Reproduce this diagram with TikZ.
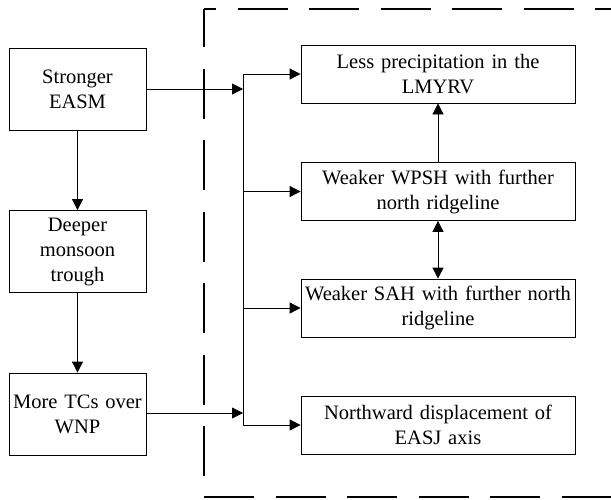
\documentclass[tikz,border=0pt]{standalone}
\usepackage{fontspec}
\setmainfont{Liberation Serif}
\usetikzlibrary{arrows.meta}
\begin{document}
\begin{tikzpicture}[x=1pt,y=-1pt,
  box/.style={draw,line width=0.8pt,align=center,inner sep=0pt,font=\fontsize{20.5}{25}\selectfont},
  lbox/.style={box,minimum width=137pt,minimum height=82pt,text width=135pt},
  rbox/.style={box,minimum width=274pt,minimum height=58pt,text width=272pt},
  conn/.style={line width=0.8pt},
  arr/.style={conn,-{Triangle[length=11pt,width=11pt]}},
  frame/.style={line width=2.3pt,dash pattern=on 50pt off 21.5pt}]
\useasboundingbox (0,0) rectangle (611,499);
% left column
\node[lbox] (se) at (77.5,89) {Stronger\\EASM};
\node[lbox] (dm) at (77.5,251.5) {Deeper\\monsoon\\trough};
\node[lbox] (tc) at (77.5,414) {More TCs over\\WNP};
% right column
\node[rbox] (lp) at (438,74) {Less precipitation in the\\LMYRV};
\node[rbox] (wp) at (438,191.5) {Weaker WPSH with further\\north ridgeline};
\node[rbox] (sa) at (438,308) {Weaker SAH with further north\\ridgeline};
\node[rbox] (nd) at (438,425) {Northward displacement of\\EASJ axis};
% bus
\coordinate (bt) at (243,74);
\coordinate (bb) at (243,425);
\coordinate (b1) at (243,89);
\coordinate (b2) at (243,413);
\draw[conn] (bt) -- (bb);
\draw[arr] (se.east |- b1) -- (b1);
\draw[arr] (tc.east |- b2) -- (b2);
\draw[arr] (bt) -- (lp.west);
\draw[arr] (243,191.5) -- (wp.west);
\draw[arr] (243,308) -- (sa.west);
\draw[arr] (bb) -- (nd.west);
% vertical
\draw[arr] (se) -- (dm);
\draw[arr] (dm) -- (tc);
\draw[arr] (wp) -- (lp);
\draw[conn,{Triangle[length=11pt,width=11pt]}-{Triangle[length=11pt,width=11pt]}] (wp) -- (sa);
% dashed frame
\coordinate (c1) at (204,9);
\coordinate (c2) at (204,497);
\draw[frame,dash phase=38pt] (c1) -- (615,9);
\draw[frame,dash phase=12pt] (c1) -- (c2);
\draw[frame] (c2) -- (615,497);
\end{tikzpicture}
\end{document}
